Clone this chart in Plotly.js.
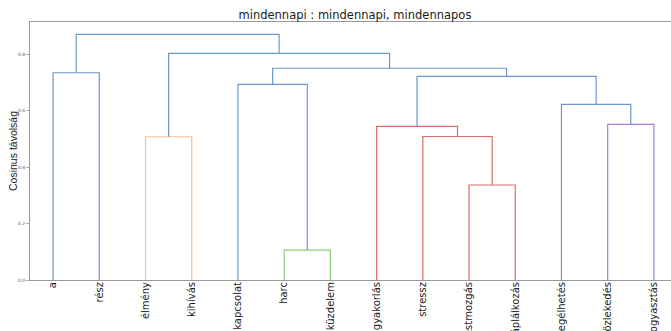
<!DOCTYPE html>
<html>
<head>
<meta charset="utf-8">
<script src="https://cdn.plot.ly/plotly-3.0.1.min.js"></script>
<style>html,body{margin:0;padding:0;background:#fff;overflow:hidden}</style>
</head>
<body>
<div id="chart" style="width:671px;height:331px"></div>
<script>
// Leaf labels in dendrogram order
const leafLabels = ["a", "rész", "élmény", "kihívás", "kapcsolat", "harc", "küzdelem",
  "gyakorlás", "stressz", "testmozgás", "táplálkozás", "megélhetés", "közlekedés", "fogyasztás"];

// Linkage: merged cluster ids (leaves 0..13, new clusters 14..), distances, cluster colour keys
const mergeLeft   = [5, 9, 2, 8, 7, 12, 11, 4, 18, 0, 21, 16, 23];
const mergeRight  = [6, 10, 3, 15, 17, 13, 19, 14, 20, 1, 22, 24, 25];
const mergeDist   = [0.106, 0.337, 0.508, 0.509, 0.545, 0.552, 0.623, 0.694, 0.722, 0.735, 0.751, 0.804, 0.871];
const mergeColor  = ["C2", "C3", "C1", "C3", "C3", "C4", "C0", "C0", "C0", "C0", "C0", "C0", "C0"];

const yTicks = [0.0, 0.2, 0.4, 0.6, 0.8];

const palette = {C0: "#6b98cc", C1: "#f6bf93", C2: "#8dc97a", C3: "#db6c6b", C4: "#a57fd2"};

const n = leafLabels.length;
const nodeX = [], nodeY = [];
for (let i = 0; i < n; i++) { nodeX.push(5 + 10 * i); nodeY.push(0); }
const traces = [];
for (let k = 0; k < mergeLeft.length; k++) {
  const l = mergeLeft[k], r = mergeRight[k], h = mergeDist[k];
  traces.push({
    type: "scatter", mode: "lines",
    x: [nodeX[l], nodeX[l], nodeX[r], nodeX[r]],
    y: [nodeY[l], h, h, nodeY[r]],
    line: {color: palette[mergeColor[k]], width: 1.2},
    hoverinfo: "skip", showlegend: false
  });
  nodeX.push((nodeX[l] + nodeX[r]) / 2);
  nodeY.push(h);
}

const layout = {
  width: 671, height: 331,
  margin: {l: 30, r: 0, t: 22, b: 51, pad: 0},
  paper_bgcolor: "#fff", plot_bgcolor: "#fff",
  font: {family: "DejaVu Sans", color: "#222"},
  title: {
    text: "mindennapi : mindennapi, mindennapos",
    font: {size: 11.5, family: "DejaVu Sans", color: "#222"},
    xref: "container", x: 0.529, xanchor: "center",
    yref: "container", y: 0.955, yanchor: "middle"
  },
  xaxis: {
    range: [0, 138.7],
    tickmode: "array",
    tickvals: leafLabels.map((_, i) => 5 + 10 * i),
    ticktext: leafLabels,
    tickangle: -90,
    tickfont: {size: 10, family: "DejaVu Sans", color: "#222"},
    ticks: "", showgrid: false, zeroline: false,
    showline: true, linecolor: "#999", linewidth: 1, mirror: true,
    automargin: false, fixedrange: true
  },
  yaxis: {
    range: [0, 0.915],
    tickmode: "array",
    tickvals: yTicks,
    tickformat: ".1f",
    tickfont: {size: 4.5, family: "DejaVu Sans", color: "#555"},
    ticks: "outside", ticklen: 3, tickcolor: "#999", tickwidth: 0.8,
    showgrid: false, zeroline: false,
    showline: true, linecolor: "#999", linewidth: 1, mirror: false,
    title: {text: "Cosinus távolság", font: {size: 10.5, family: "Liberation Sans", color: "#222"}, standoff: 0},
    automargin: false, fixedrange: true
  }
};

Plotly.newPlot("chart", traces, layout, {displayModeBar: false, staticPlot: true}).then(function () {
  // nudge the y-axis title towards the axis to match the reference position
  var t = document.querySelector(".g-ytitle text");
  if (t) {
    var cur = parseFloat(t.getAttribute("x"));
    var dx = 16.5 - cur;
    t.setAttribute("transform", "translate(" + dx + ",0) " + (t.getAttribute("transform") || ""));
  }
  // pull the leaf labels up so they start just under the axis, like the reference
  document.querySelectorAll(".xtick text").forEach(function (el) {
    el.setAttribute("transform", "translate(0,-3) " + (el.getAttribute("transform") || ""));
  });
});
</script>
</body>
</html>
